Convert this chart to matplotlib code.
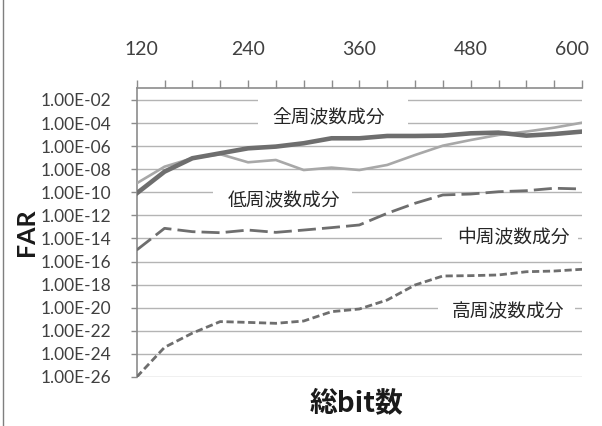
import matplotlib
matplotlib.use("Agg")
import matplotlib.pyplot as plt
import matplotlib.ticker as mticker
import matplotlib.transforms as mtrans
from matplotlib.patches import Rectangle
from matplotlib.lines import Line2D
import numpy as np

# ---- data ----
bits = [120, 150, 180, 210, 240, 270, 300, 330, 360, 390, 420, 450, 480, 510, 540, 570, 600]
x_tick_labels = ["120", "240", "360", "480", "600"]
x_tick_values = [120, 240, 360, 480, 600]
# log10(FAR)
full_log = [-10.09, -8.21, -7.05, -6.62, -6.19, -6.04, -5.75, -5.32, -5.32, -5.12, -5.12,
            -5.09, -4.89, -4.83, -5.09, -4.95, -4.74]
low_log = [-9.22, -7.78, -7.05, -6.70, -7.40, -7.20, -8.07, -7.86, -8.07, -7.63, -6.77,
           -5.96, -5.47, -5.03, -4.74, -4.40, -3.97]
mid_log = [-15.0, -13.12, -13.41, -13.50, -13.27, -13.47, -13.27, -13.06, -12.83, -11.82, -10.95,
           -10.23, -10.15, -9.95, -9.86, -9.65, -9.71]
high_log = [-26.0, -23.43, -22.2, -21.2, -21.27, -21.35, -21.15, -20.34, -20.11, -19.33, -18.03,
            -17.25, -17.22, -17.16, -16.88, -16.82, -16.67]
series_names = ["全周波数成分", "低周波数成分", "中周波数成分", "高周波数成分"]
y_exponents = list(range(-26, -1, 2))

full = 10.0 ** np.array(full_log)
low = 10.0 ** np.array(low_log)
mid = 10.0 ** np.array(mid_log)
high = 10.0 ** np.array(high_log)

W, H = 602, 426
fig = plt.figure(figsize=(W / 100, H / 100), dpi=100)
L, R, T, B = 136.7, 582.0, 88.3, 377.0
ax = fig.add_axes([L / W, 1 - B / H, (R - L) / W, (B - T) / H])

grid_c = "#b4b4b4"
axis_c = "#8c8c8c"
dark = "#6e6e6e"
light = "#a8a8a8"

ax.set_yscale("log")
ax.set_xlim(120, 600)
ax.set_ylim(1e-26, 10 ** -0.99)

# gridlines
for e in y_exponents:
    ax.axhline(10.0 ** e, color=grid_c, lw=1.0, zorder=1)

# label boxes (white, hide gridlines)
def px_box(x0, x1, y0, y1):
    ax.add_patch(Rectangle(((x0 - L) / (R - L), (B - y1) / (B - T)),
                           (x1 - x0) / (R - L), (y1 - y0) / (B - T),
                           transform=ax.transAxes, facecolor="white",
                           edgecolor="none", zorder=2))

px_box(258, 408, 95, 140)
px_box(213, 352, 186, 212)
px_box(442, 578, 226, 250)
px_box(438, 575, 298, 325)

lab_font = dict(family=["Noto Sans CJK JP", "DejaVu Sans"], fontsize=13.5, color="#262626",
                ha="center", va="center", transform=ax.transAxes, zorder=3)
def px_text(x, y, s):
    ax.text((x - L) / (R - L), (B - y) / (B - T), s, **lab_font)

px_text(329, 118, series_names[0])
px_text(284, 201, series_names[1])
px_text(513, 237, series_names[2])
px_text(508, 312, series_names[3])

# series
ax.plot(bits, low, color=light, lw=1.9, zorder=4, solid_joinstyle="round")
ax.plot(bits, full, color=dark, lw=3.3, zorder=5, solid_joinstyle="round")
ax.plot(bits, mid, color=dark, lw=2.0, zorder=5, dashes=(6.5, 2.2))
ax.plot(bits, high, color=dark, lw=2.0, zorder=5, dashes=(2.6, 1.3))

# spines
for s in ["right", "bottom"]:
    ax.spines[s].set_visible(False)
ax.spines["left"].set_color(axis_c)
ax.spines["top"].set_color(axis_c)
ax.spines["left"].set_linewidth(1.2)
ax.spines["top"].set_linewidth(1.2)

# x axis on top
ax.xaxis.set_ticks_position("top")
ax.xaxis.set_label_position("top")
ax.set_xticks(bits, minor=True)
ax.set_xticks(x_tick_values)
ax.set_xticklabels(x_tick_labels, family="Lato", fontsize=14, color="#404040")
ax.tick_params(axis="x", which="both", direction="out", length=6, width=1, color=axis_c,
               pad=16, top=True, bottom=False)

# y axis
ax.yaxis.set_major_locator(mticker.FixedLocator([10.0 ** e for e in y_exponents]))
ax.yaxis.set_minor_locator(mticker.NullLocator())
ax.set_yticks([10.0 ** e for e in y_exponents])
ax.set_yticklabels(["1.00E%+03d" % e for e in y_exponents], family="Lato", fontsize=12.5,
                   color="#404040")
ax.tick_params(axis="y", which="major", direction="out", length=4, width=1, color=axis_c,
               pad=14)

# shift end labels of x axis
xl = ax.get_xticklabels()
xl[0].set_transform(xl[0].get_transform() + mtrans.ScaledTranslation(5 / 100, 0, fig.dpi_scale_trans))
xl[-1].set_transform(xl[-1].get_transform() + mtrans.ScaledTranslation(-10 / 100, 0, fig.dpi_scale_trans))

# axis titles
fig.text(26 / W, 1 - 232 / H, "FAR", rotation=90, ha="center", va="center",
         family="Lato", fontweight="bold", fontsize=18, color="#1a1a1a")
fig.text(357 / W, 1 - 403 / H, "総bit数", ha="center", va="center",
         family=["Noto Sans CJK JP", "DejaVu Sans"], fontweight="bold", fontsize=20,
         color="#1a1a1a")

# chart-area border at left edge
fig.add_artist(Line2D([2.5 / W, 2.5 / W], [0, 1], transform=fig.transFigure,
                      color="#7f7f7f", lw=1.0))

fig.savefig("out.png", dpi=100)
